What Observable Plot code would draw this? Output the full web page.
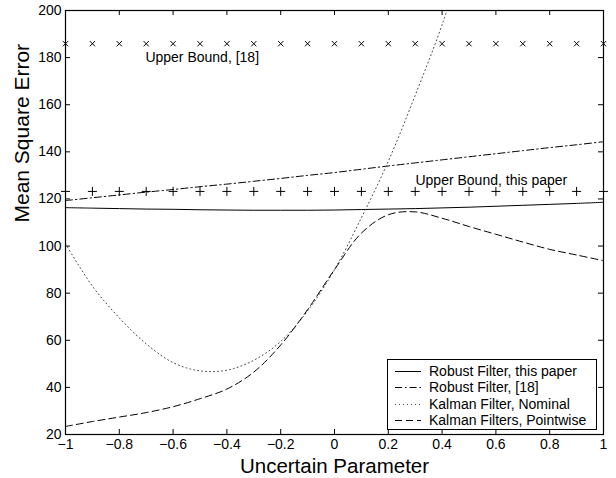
<!DOCTYPE html>
<html><head><meta charset="utf-8">
<script src="https://cdn.jsdelivr.net/npm/d3@7"></script>
<script src="https://cdn.jsdelivr.net/npm/@observablehq/plot@0.6"></script>
<style>
body{margin:0;background:#fff;}
#wrap{position:relative;width:616px;height:478px;font-family:"Liberation Sans",Arial,Helvetica,sans-serif;}
#legend{position:absolute;left:387px;top:359px;width:210px;height:71px;border:1px solid #000;background:#fff;box-sizing:border-box;font-size:14px;color:#000;}
#legend .row{position:absolute;left:0;height:16px;line-height:16px;white-space:nowrap;}
#legend svg{position:absolute;left:7px;top:0;}
#legend span{position:absolute;left:41px;top:0;}
</style></head><body><div id="wrap"></div>
<script>
const param = [-1,-0.9,-0.8,-0.7,-0.6,-0.5,-0.4,-0.3,-0.2,-0.1,0,0.1,0.2,0.3,0.4,0.5,0.6,0.7,0.8,0.9,1];
const robustThis = [116.3,116.1,115.9,115.7,115.6,115.4,115.3,115.2,115.2,115.2,115.3,115.5,115.7,115.9,116.2,116.5,116.9,117.3,117.7,118.1,118.6];
const robust18 = [119.3,120.5,121.7,122.9,124,125.2,126.3,127.5,128.7,130,131.2,132.6,134,135.3,136.6,137.9,139.2,140.5,141.8,143,144.3];
const kalmanNominal = [101,83,69.5,58.5,50.5,47,47.3,51.5,59.5,72.5,90,112,136,164,194,230,null,null,null,null,null];
const kalmanPointwise = [23.4,25.5,27.4,29.3,31.8,35.2,39.3,46.5,58,73,90,105.5,113.3,114.5,111.8,108.3,105,101.7,98.6,96.2,93.8];
const boundParam = [-1,-0.9,-0.8,-0.7,-0.6,-0.5,-0.4,-0.3,-0.2,-0.1,0,0.1,0.2,0.3,0.4,0.5,0.6,0.7,0.8,0.9,1];
const upperBound18 = 185.9;
const upperBoundThis = 123.2;
const xTicks = [-1,-0.8,-0.6,-0.4,-0.2,0,0.2,0.4,0.6,0.8,1];
const yTicks = [20,40,60,80,100,120,140,160,180,200];
const annotationText = ["Upper Bound, [18]","Upper Bound, this paper"];
const annotationX = [-0.703,0.301];
const annotationY = [180,127.8];
const seriesNames = ["Robust Filter, this paper","Robust Filter, [18]","Kalman Filter, Nominal","Kalman Filters, Pointwise"];
const seriesDash = [null,"7,3,1.5,3","1,3","7,4"];
const seriesColor = ["#000","#000","#444","#000"];
const seriesValues = [robustThis, robust18, kalmanNominal, kalmanPointwise];

const W = 616, H = 478, ML = 65, MR = 13, MT = 10, MB = 44;
const plotW = W - ML - MR, plotH = H - MT - MB, tick = 5;
const fmt = d => d < 0 ? "\u2212" + Math.abs(d) : String(d);

const lineMarks = seriesValues.map((vals, s) =>
  Plot.line(param.map((x, i) => ({x, y: vals[i]})).filter(d => d.y != null), {
    x: "x", y: "y", stroke: seriesColor[s], strokeWidth: 1,
    strokeDasharray: seriesDash[s] || undefined, curve: "catmull-rom", clip: true
  })
);

const chart = Plot.plot({
  width: W, height: H,
  marginLeft: ML, marginRight: MR, marginTop: MT, marginBottom: MB,
  style: {fontFamily: '"Liberation Sans", Arial, Helvetica, sans-serif', fontSize: "14px", color: "#000", background: "#fff"},
  x: {domain: [-1, 1], label: null},
  y: {domain: [20, 200], label: null},
  marks: [
    ...lineMarks,
    Plot.dot(boundParam, {x: d => d, y: () => upperBound18, symbol: "times", r: 2.5, stroke: "#000", strokeWidth: 1}),
    Plot.dot(boundParam, {x: d => d, y: () => upperBoundThis, symbol: "plus", r: 3, stroke: "#000", strokeWidth: 1}),
    Plot.text(annotationText, {x: (d, i) => annotationX[i], y: (d, i) => annotationY[i], text: d => d, textAnchor: "start", fontSize: 14, fill: "#000"}),
    Plot.frame({stroke: "#000", strokeWidth: 1.2}),
    Plot.tickX(xTicks, {x: d => d, insetTop: plotH - tick, stroke: "#000"}),
    Plot.tickX(xTicks, {x: d => d, insetBottom: plotH - tick, stroke: "#000"}),
    Plot.tickY(yTicks, {y: d => d, insetRight: plotW - tick, stroke: "#000"}),
    Plot.tickY(yTicks, {y: d => d, insetLeft: plotW - tick, stroke: "#000"}),
    Plot.axisX(xTicks, {tickSize: 0, tickPadding: 5, fontSize: 14, tickFormat: fmt}),
    Plot.axisY(yTicks, {tickSize: 0, tickPadding: 4, fontSize: 14, tickFormat: fmt}),
    Plot.text(["Uncertain Parameter"], {frameAnchor: "bottom", dy: 38, fontSize: 20.5, fill: "#000"}),
    Plot.text(["Mean Square Error"], {frameAnchor: "left", dx: -43, rotate: -90, fontSize: 21, fill: "#000"})
  ]
});

const wrap = document.getElementById("wrap");
wrap.appendChild(chart);

const legend = document.createElement("div");
legend.id = "legend";
const rowTops = [3, 19.4, 35.9, 52.3];
seriesNames.forEach((name, s) => {
  const row = document.createElement("div");
  row.className = "row";
  row.style.top = rowTops[s] + "px";
  const svg = d3.create("svg").attr("width", 28).attr("height", 16);
  svg.append("line").attr("x1", 0).attr("x2", 26).attr("y1", 8.5).attr("y2", 8.5)
    .attr("stroke", seriesColor[s]).attr("stroke-width", 1)
    .attr("stroke-dasharray", seriesDash[s]);
  row.appendChild(svg.node());
  const span = document.createElement("span");
  span.textContent = name;
  row.appendChild(span);
  legend.appendChild(row);
});
wrap.appendChild(legend);
</script>
</body></html>
